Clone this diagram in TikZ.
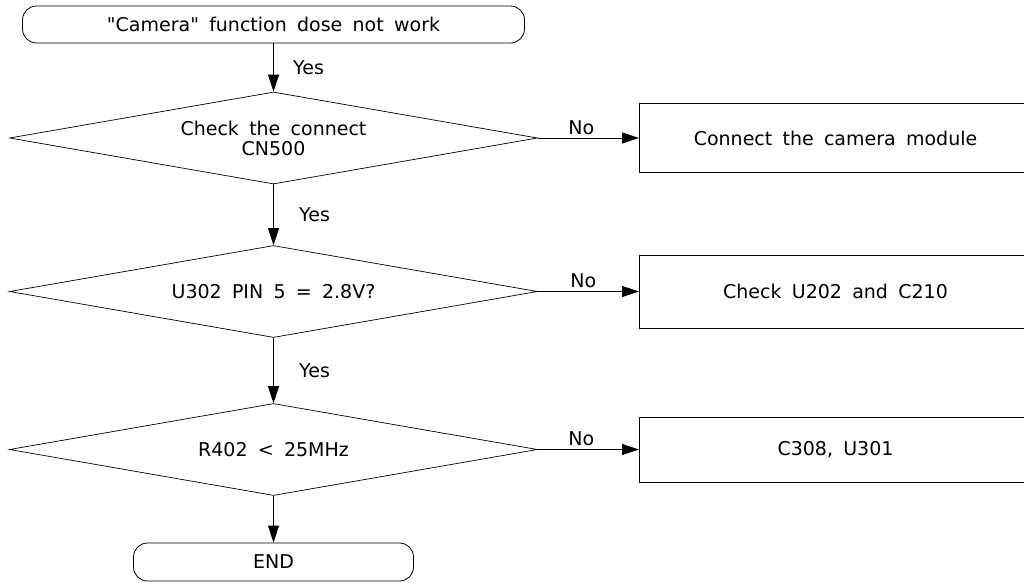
\documentclass[tikz,border=0pt]{standalone}
\usepackage{fontspec}
\setmainfont{DejaVu Sans}[WordSpace=1.7]
\usetikzlibrary{shapes.geometric,positioning,arrows.meta}

\begin{document}
\begin{tikzpicture}[x=1pt,y=-1pt,on grid,
    font=\fontsize{19}{20}\selectfont,
    decision/.style={diamond,draw,line width=0.7pt,aspect=5.7,inner sep=0pt,
      minimum width=528pt,minimum height=92pt,align=center},
    action/.style={rectangle,draw,line width=1pt,minimum width=392pt,minimum height=69pt},
    terminal/.style={rectangle,draw,line width=0.8pt,rounded corners=14pt,minimum height=37pt}]
   \clip (0,0) rectangle (1024,582);
   \node[terminal, minimum width=502pt] (start) at (273.5,24.5) {\textquotedbl Camera\textquotedbl{} function dose not work};
   \node[decision] (d1) [below=113.5pt of start] {Check the connect\\CN500};
   \node[decision] (d2) [below=153.5pt of d1] {U302 PIN 5 = 2.8V?};
   \node[decision] (d3) [below=158pt of d2] {R402 < 25MHz};
   \node[terminal, minimum width=280pt, minimum height=38pt] (end) [below=112.5pt of d3] {END};
   \node[action] (b1) [right=562pt of d1] {Connect the camera module};
   \node[action, minimum height=73pt] (b2) [right=562pt of d2] {Check U202 and C210};
   \node[action, minimum height=65pt] (b3) [right=562pt of d3] {C308, U301};
    \path[->, line width=0.8pt, >={Triangle[length=17pt,width=11pt]}]
    (start) edge node[anchor=west, xshift=16pt] {Yes} (d1)
    (d1) edge node[anchor=west, xshift=22pt] {Yes} (d2)
         edge node[above, pos=0.43] {No} (b1)
    (d2) edge node[anchor=west, xshift=22pt] {Yes} (d3)
         edge node[above, pos=0.45] {No} (b2)
    (d3) edge (end)
         edge node[above, pos=0.43] {No} (b3);
\end{tikzpicture}
\end{document}
